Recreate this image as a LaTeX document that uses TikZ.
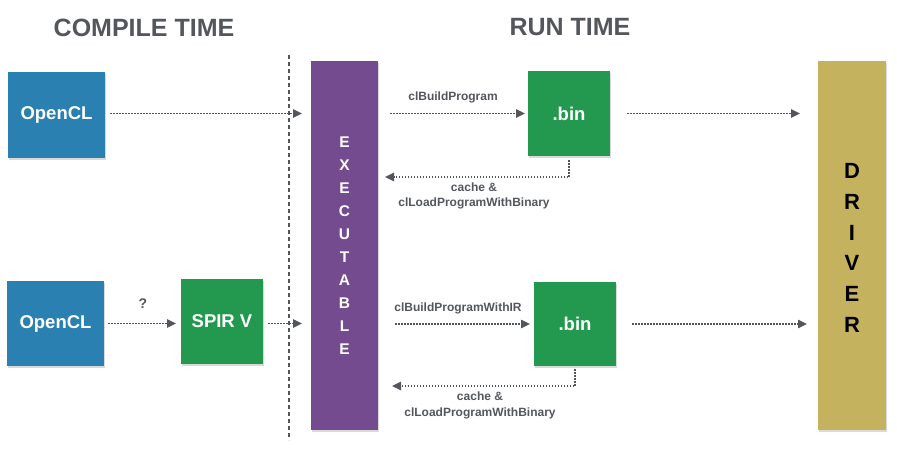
\documentclass[tikz,border=0pt]{standalone}
\usepackage{fontspec}
\setmainfont{Liberation Sans}
\usetikzlibrary{arrows.meta,shadows}
\definecolor{cblue}{HTML}{2A80B0}
\definecolor{cgreen}{HTML}{22994E}
\definecolor{cpurple}{HTML}{744B8E}
\definecolor{cgold}{HTML}{C4B25F}
\definecolor{cgray}{HTML}{53575C}
\tikzset{
  box/.style={draw=none, inner sep=0pt, outer sep=0pt, text=white,
    font=\bfseries\fontsize{18.5}{22}\selectfont,
    drop shadow={shadow xshift=1pt, shadow yshift=-1.5pt, opacity=0.3}},
  arr/.style={draw=cgray, line width=1.6pt, dash pattern=on 1.5pt off 1.5pt,
    -{Triangle[length=9pt,width=8.5pt,sep=0pt]}},
  lbl/.style={text=cgray, font=\bfseries\fontsize{12}{15.5}\selectfont, align=center},
  title/.style={text=cgray, font=\bfseries\fontsize{25}{30}\selectfont},
}
\begin{document}
\begin{tikzpicture}[x=1pt,y=-1pt]
\useasboundingbox (0,0) rectangle (897,448);
% titles
\node[title] (tct) at (144,27.5) {COMPILE TIME};
\node[title] (trt) at (570,27.5) {RUN TIME};
% dashed separator
\coordinate (sepT) at (289,55);
\coordinate (sepB) at (289,440);
\draw[cgray, line width=1.8pt, dash pattern=on 4pt off 3pt] (sepT) -- (sepB);
% boxes
\node[box, fill=cblue, minimum width=97pt, minimum height=86pt] (ocl1) at (56.5,115) {OpenCL};
\node[box, fill=cblue, minimum width=97pt, minimum height=85pt] (ocl2) at (55.5,323.5) {OpenCL};
\node[box, fill=cgreen, minimum width=82pt, minimum height=85pt] (spir) at (222,321.5) {SPIR V};
\node[box, fill=cpurple, minimum width=67pt, minimum height=369pt] (exec) at (344.5,245.5) {};
\node[text=white, font=\bfseries\fontsize{15.5}{23}\selectfont, align=center] (execT) at (344.5,245.5)
  {E\\X\\E\\C\\U\\T\\A\\B\\L\\E};
\node[box, fill=cgreen, minimum width=82pt, minimum height=85pt] (bin1) at (569,113.5) {.bin};
\node[box, fill=cgreen, minimum width=82pt, minimum height=84pt] (bin2) at (575,324) {.bin};
\node[box, fill=cgold, minimum width=68pt, minimum height=369pt] (drv) at (852,245.5) {};
\node[text=black, font=\bfseries\fontsize{22}{30.8}\selectfont, align=center] (drvT) at (852,248)
  {D\\R\\I\\V\\E\\R};
% top row arrows
\draw[arr, shorten <=5pt, shorten >=9pt] (ocl1.east|-bin1.west) -- (exec.west|-bin1.west);
\draw[arr, shorten <=12pt, shorten >=3pt] (exec.east|-bin1.west) -- (bin1.west);
\draw[arr, shorten <=17pt, shorten >=18pt] (bin1.east) -- (drv.west|-bin1.east);
\coordinate (r1) at (569,177);
\draw[arr, shorten <=4pt, shorten >=7pt] (bin1.south) -- (r1) -- (exec.east|-r1);
\node[lbl] (l1) at (453,97.5) {clBuildProgram};
\node[lbl] (l2) at (474,196) {cache \&\\clLoadProgramWithBinary};
% bottom row arrows
\draw[arr, shorten <=4pt, shorten >=5pt] (ocl2.east) -- (spir.west|-ocl2.east);
\draw[arr, shorten <=5pt, shorten >=9pt] (spir.east|-ocl2.east) -- (exec.west|-ocl2.east);
\draw[arr, shorten <=17pt, shorten >=4pt] (exec.east|-bin2.west) -- (bin2.west);
\draw[arr, shorten <=16pt, shorten >=11pt] (bin2.east) -- (drv.west|-bin2.east);
\coordinate (r2) at (575,386);
\draw[arr, shorten <=3pt, shorten >=14pt] (bin2.south) -- (r2) -- (exec.east|-r2);
\node[lbl, font=\bfseries\fontsize{14}{16}\selectfont] (q) at (143,304) {?};
\node[lbl] (l3) at (458,308) {clBuildProgramWithIR};
\node[lbl] (l4) at (480,405.5) {cache \&\\clLoadProgramWithBinary};
\end{tikzpicture}
\end{document}
